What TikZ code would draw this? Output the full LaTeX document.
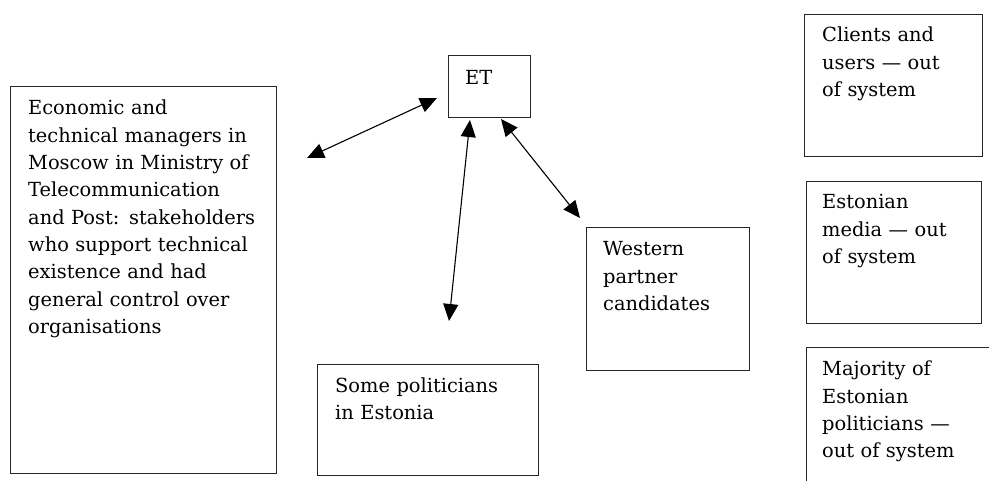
\documentclass[tikz,border=0pt]{standalone}
\usepackage{fontspec}
\setmainfont{DejaVu Serif}
\usetikzlibrary{arrows.meta,calc}

\tikzset{
  box/.style={draw=black!85, line width=1.4pt, anchor=north west, inner sep=0pt},
  txt/.style={anchor=base west, inner sep=0pt, align=left, text width=#1,
              font={\fontsize{19.4}{27.3}\selectfont}},
  link/.style={line width=1.1pt, {Triangle[length=17pt,width=15pt]}-{Triangle[length=17pt,width=15pt]}},
}

\begin{document}
\begin{tikzpicture}[x=1pt, y=-1pt]
  \clip (0,0) rectangle (989,481);
  \fill[white] (0,0) rectangle (989,481);

  % boxes
  \node[box, minimum width=266pt, minimum height=387pt] (mgr) at (10,86) {};
  \node[box, minimum width=82pt,  minimum height=62pt]  (et)  at (448,55) {};
  \node[box, minimum width=221pt, minimum height=111pt] (some) at (317,364) {};
  \node[box, minimum width=163pt, minimum height=143pt] (west) at (586,227) {};
  \node[box, minimum width=178pt, minimum height=142pt] (clients) at (804,14) {};
  \node[box, minimum width=175pt, minimum height=142pt] (media) at (806,181) {};
  \node[box, minimum width=200pt, minimum height=160pt] (majority) at (806,347) {};

  % box texts
  \node[txt=250pt] (mgr-t) at ($(mgr.north west)+(18,29)$)
    {Economic and\\technical managers in\\Moscow in Ministry of\\Telecommunication\\and Post: stakeholders\\who support technical\\existence and had\\general control over\\organisations};
  \node[txt=70pt] (et-t) at ($(et.north west)+(17,30)$) {ET};
  \node[txt=210pt] (some-t) at ($(some.north west)+(18,28)$) {Some politicians\\in Estonia};
  \node[txt=150pt] (west-t) at ($(west.north west)+(17,29)$) {Western\\partner\\candidates};
  \node[txt=165pt] (clients-t) at ($(clients.north west)+(18,28)$) {Clients and\\users — out\\of system};
  \node[txt=165pt] (media-t) at ($(media.north west)+(16,28)$) {Estonian\\media — out\\of system};
  \node[txt=165pt] (majority-t) at ($(majority.north west)+(16,29)$) {Majority of\\Estonian\\politicians —\\out of system};

  % free arrow ends
  \coordinate (etL)   at (437,98);
  \coordinate (mgrR)  at (307,158);
  \coordinate (etB)   at (470,120);
  \coordinate (someT) at (449,321);
  \coordinate (etR)   at (501,119);
  \coordinate (westT) at (580,218);

  % two-way links
  \draw[link] (mgrR) -- (etL);
  \draw[link] (someT) -- (etB);
  \draw[link] (westT) -- (etR);
\end{tikzpicture}
\end{document}
